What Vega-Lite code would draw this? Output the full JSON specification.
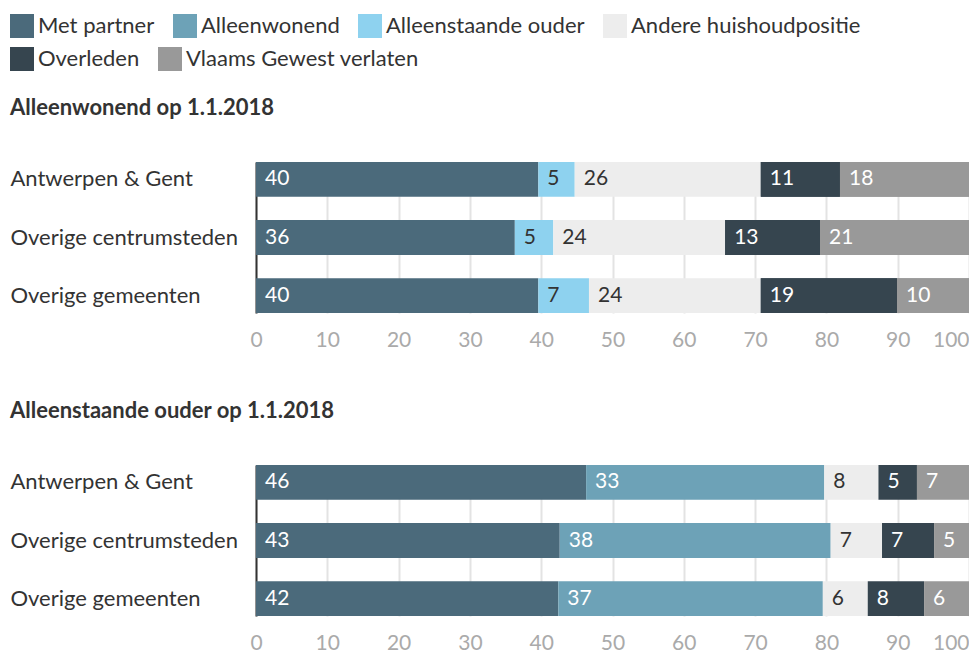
{
  "$schema": "https://vega.github.io/schema/vega-lite/v6.json",
  "padding": {"left": 10, "top": 14, "right": 0, "bottom": 0},
  "autosize": {"type": "pad"},
  "config": {"font": "Lato", "view": {"stroke": null}, "concat": {"spacing": 50},
    "legend": {"title": null, "orient": "none", "direction": "horizontal", "symbolType": "square", "symbolSize": 576, "symbolStrokeWidth": 0, "symbolOpacity": 1, "labelFontSize": 22, "labelColor": "#333", "labelOffset": 4, "columnPadding": 18, "labelLimit": 400}},
  "data": {"values": [
    {"panel": "A", "region": "Antwerpen & Gent", "cat": "Met partner", "value": 39.6},
    {"panel": "A", "region": "Antwerpen & Gent", "cat": "Alleenstaande ouder", "value": 5.1},
    {"panel": "A", "region": "Antwerpen & Gent", "cat": "Andere huishoudpositie", "value": 26.1},
    {"panel": "A", "region": "Antwerpen & Gent", "cat": "Overleden", "value": 11.1},
    {"panel": "A", "region": "Antwerpen & Gent", "cat": "Vlaams Gewest verlaten", "value": 18.1},
    {"panel": "A", "region": "Overige centrumsteden", "cat": "Met partner", "value": 36.3},
    {"panel": "A", "region": "Overige centrumsteden", "cat": "Alleenstaande ouder", "value": 5.4},
    {"panel": "A", "region": "Overige centrumsteden", "cat": "Andere huishoudpositie", "value": 24.1},
    {"panel": "A", "region": "Overige centrumsteden", "cat": "Overleden", "value": 13.3},
    {"panel": "A", "region": "Overige centrumsteden", "cat": "Vlaams Gewest verlaten", "value": 20.9},
    {"panel": "A", "region": "Overige gemeenten", "cat": "Met partner", "value": 39.6},
    {"panel": "A", "region": "Overige gemeenten", "cat": "Alleenstaande ouder", "value": 7.1},
    {"panel": "A", "region": "Overige gemeenten", "cat": "Andere huishoudpositie", "value": 24.1},
    {"panel": "A", "region": "Overige gemeenten", "cat": "Overleden", "value": 19.1},
    {"panel": "A", "region": "Overige gemeenten", "cat": "Vlaams Gewest verlaten", "value": 10.1},
    {"panel": "B", "region": "Antwerpen & Gent", "cat": "Met partner", "value": 46.3},
    {"panel": "B", "region": "Antwerpen & Gent", "cat": "Alleenwonend", "value": 33.4},
    {"panel": "B", "region": "Antwerpen & Gent", "cat": "Andere huishoudpositie", "value": 7.6},
    {"panel": "B", "region": "Antwerpen & Gent", "cat": "Overleden", "value": 5.4},
    {"panel": "B", "region": "Antwerpen & Gent", "cat": "Vlaams Gewest verlaten", "value": 7.3},
    {"panel": "B", "region": "Overige centrumsteden", "cat": "Met partner", "value": 42.6},
    {"panel": "B", "region": "Overige centrumsteden", "cat": "Alleenwonend", "value": 38.0},
    {"panel": "B", "region": "Overige centrumsteden", "cat": "Andere huishoudpositie", "value": 7.2},
    {"panel": "B", "region": "Overige centrumsteden", "cat": "Overleden", "value": 7.3},
    {"panel": "B", "region": "Overige centrumsteden", "cat": "Vlaams Gewest verlaten", "value": 4.9},
    {"panel": "B", "region": "Overige gemeenten", "cat": "Met partner", "value": 42.4},
    {"panel": "B", "region": "Overige gemeenten", "cat": "Alleenwonend", "value": 37.1},
    {"panel": "B", "region": "Overige gemeenten", "cat": "Andere huishoudpositie", "value": 6.3},
    {"panel": "B", "region": "Overige gemeenten", "cat": "Overleden", "value": 7.9},
    {"panel": "B", "region": "Overige gemeenten", "cat": "Vlaams Gewest verlaten", "value": 6.3}
  ]},
  "vconcat": [
    {
      "title": {"text": "Alleenwonend op 1.1.2018", "anchor": "start", "frame": "bounds", "fontSize": 22, "fontWeight": "bold", "color": "#333", "offset": 42},
      "width": 713, "height": 151,
      "transform": [
        {"filter": "datum.panel === 'A'"},
        {"stack": "value", "groupby": ["region"], "as": ["x0", "x1"]}
      ],
      "encoding": {
        "y": {"field": "region", "type": "nominal", "sort": ["Antwerpen & Gent", "Overige centrumsteden", "Overige gemeenten"],
          "scale": {"paddingInner": 0.4, "paddingOuter": 0},
          "axis": {"title": null, "labelAlign": "left", "labelPadding": 246, "ticks": false, "domain": true, "domainColor": "#333", "domainWidth": 2, "labelFontSize": 22, "labelColor": "#333", "labelLimit": 300}}
      },
      "layer": [
        {
          "mark": {"type": "bar"},
          "encoding": {
            "x": {"field": "x0", "type": "quantitative", "scale": {"domain": [0, 100], "nice": false},
              "axis": {"title": null, "values": [0, 10, 20, 30, 40, 50, 60, 70, 80, 90, 100], "domain": false, "ticks": false, "grid": true, "gridColor": "#e3e3e3", "gridWidth": 2, "labelColor": "#aaaaaa", "labelFontSize": 21, "labelPadding": 16,
                "labelAlign": {"condition": {"test": "datum.value === 100", "value": "right"}, "value": "center"}}},
            "x2": {"field": "x1"},
            "color": {"field": "cat", "type": "nominal",
              "scale": {"domain": ["Met partner", "Alleenwonend", "Alleenstaande ouder", "Andere huishoudpositie", "Overleden", "Vlaams Gewest verlaten"],
                "range": ["#4b6a7b", "#6da2b7", "#8ed2ef", "#ededed", "#36454f", "#999999"]},
              "legend": {"values": ["Met partner", "Alleenwonend", "Alleenstaande ouder", "Andere huishoudpositie"], "legendX": -246, "legendY": -148}}
          }
        },
        {
          "transform": [{"filter": "datum.cat === 'Overleden' || datum.cat === 'Vlaams Gewest verlaten'"}],
          "mark": {"type": "bar"},
          "encoding": {
            "x": {"field": "x0", "type": "quantitative"},
            "x2": {"field": "x1"},
            "fill": {"field": "cat", "type": "nominal",
              "scale": {"domain": ["Overleden", "Vlaams Gewest verlaten"], "range": ["#36454f", "#999999"]},
              "legend": {"legendX": -246, "legendY": -115}}
          }
        },
        {
          "mark": {"type": "text", "align": "left", "baseline": "middle", "dx": 9, "fontSize": 21},
          "encoding": {
            "x": {"field": "x0", "type": "quantitative"},
            "text": {"field": "value", "type": "quantitative", "format": ".0f"},
            "color": {"condition": {"test": "datum.cat === 'Alleenstaande ouder' || datum.cat === 'Andere huishoudpositie'", "value": "#333333"}, "value": "#ffffff"}
          }
        }
      ]
    },
    {
      "title": {"text": "Alleenstaande ouder op 1.1.2018", "anchor": "start", "frame": "bounds", "fontSize": 22, "fontWeight": "bold", "color": "#333", "offset": 42},
      "width": 713, "height": 151,
      "transform": [
        {"filter": "datum.panel === 'B'"},
        {"stack": "value", "groupby": ["region"], "as": ["x0", "x1"]}
      ],
      "encoding": {
        "y": {"field": "region", "type": "nominal", "sort": ["Antwerpen & Gent", "Overige centrumsteden", "Overige gemeenten"],
          "scale": {"paddingInner": 0.4, "paddingOuter": 0},
          "axis": {"title": null, "labelAlign": "left", "labelPadding": 246, "ticks": false, "domain": true, "domainColor": "#333", "domainWidth": 2, "labelFontSize": 22, "labelColor": "#333", "labelLimit": 300}}
      },
      "layer": [
        {
          "mark": {"type": "bar"},
          "encoding": {
            "x": {"field": "x0", "type": "quantitative", "scale": {"domain": [0, 100], "nice": false},
              "axis": {"title": null, "values": [0, 10, 20, 30, 40, 50, 60, 70, 80, 90, 100], "domain": false, "ticks": false, "grid": true, "gridColor": "#e3e3e3", "gridWidth": 2, "labelColor": "#aaaaaa", "labelFontSize": 21, "labelPadding": 16,
                "labelAlign": {"condition": {"test": "datum.value === 100", "value": "right"}, "value": "center"}}},
            "x2": {"field": "x1"},
            "color": {"field": "cat", "type": "nominal",
              "scale": {"domain": ["Met partner", "Alleenwonend", "Alleenstaande ouder", "Andere huishoudpositie", "Overleden", "Vlaams Gewest verlaten"],
                "range": ["#4b6a7b", "#6da2b7", "#8ed2ef", "#ededed", "#36454f", "#999999"]}}
          }
        },
        {
          "mark": {"type": "text", "align": "left", "baseline": "middle", "dx": 9, "fontSize": 21},
          "encoding": {
            "x": {"field": "x0", "type": "quantitative"},
            "text": {"field": "value", "type": "quantitative", "format": ".0f"},
            "color": {"condition": {"test": "datum.cat === 'Alleenstaande ouder' || datum.cat === 'Andere huishoudpositie'", "value": "#333333"}, "value": "#ffffff"}
          }
        }
      ]
    }
  ]
}
